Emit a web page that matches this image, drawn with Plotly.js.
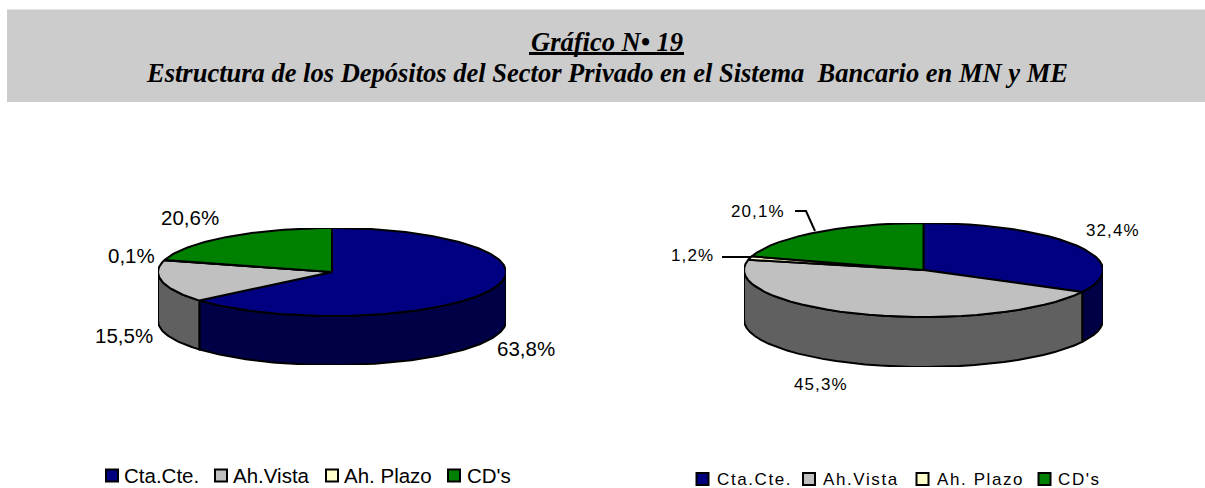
<!DOCTYPE html>
<html><head><meta charset="utf-8">
<script src="https://cdn.plot.ly/plotly-3.0.1.min.js"></script>
<style>html,body{margin:0;padding:0;background:#fff}#c{width:1205px;height:488px}</style>
</head><body><div id="c"></div>
<script>
const categories = ["Cta.Cte.", "Ah.Vista", "Ah. Plazo", "CD's"];
const valuesMN = [63.8, 15.5, 0.1, 20.6];
const valuesME = [32.4, 45.3, 1.2, 20.1];
const labelsMN = ["63,8%", "15,5%", "0,1%", "20,6%"];
const labelsME = ["32,4%", "45,3%", "1,2%", "20,1%"];
const topColors = ["#000080", "#C0C0C0", "#FFFFCC", "#008000"];
const sideColors = ["#000046", "#606060", "#808066", "#004000"];

const W = 1205, H = 488;
const traces = [], annotations = [], shapes = [];
const rad = d => d * Math.PI / 180;

function addPie(values, suffix, depth, step, lw) {
  const total = values.reduce((a, b) => a + b, 0);
  let start = 0;
  const wedges = values.map(v => { const w = [start, start + v / total * 360]; start = w[1]; return w; });
  const ax = {xaxis: 'x' + suffix, yaxis: 'y' + suffix, type: 'scatter', mode: 'lines', fill: 'toself',
              hoverinfo: 'skip', showlegend: false};
  const arc = (a, b) => {
    const out = [];
    const n = Math.max(1, Math.round((b - a) / step));
    for (let i = 0; i <= n; i++) out.push(a + (b - a) * i / n);
    return out;
  };
  // front walls
  wedges.forEach((w, i) => {
    const a = Math.max(w[0], 90), b = Math.min(w[1], 270);
    if (b <= a) return;
    const t = arc(a, b);
    const xs = t.map(d => Math.sin(rad(d))).concat(t.slice().reverse().map(d => Math.sin(rad(d))));
    const ys = t.map(d => Math.cos(rad(d))).concat(t.slice().reverse().map(d => Math.cos(rad(d)) - depth));
    xs.push(xs[0]); ys.push(ys[0]);
    traces.push(Object.assign({}, ax, {x: xs, y: ys, fillcolor: sideColors[i], line: {color: '#000', width: lw}}));
  });
  // top faces
  wedges.forEach((w, i) => {
    const t = arc(w[0], w[1]);
    const xs = [0].concat(t.map(d => Math.sin(rad(d))), [0]);
    const ys = [0].concat(t.map(d => Math.cos(rad(d))), [0]);
    traces.push(Object.assign({}, ax, {x: xs, y: ys, fillcolor: topColors[i], line: {color: '#000', width: lw}}));
  });
}
addPie(valuesMN, '', 49 / 44, 1, 2);
addPie(valuesME, '2', 50 / 47, 5, 2);

// overlay in page units for labels, leaders and legends
const page = {xaxis: 'x3', yaxis: 'y3', hoverinfo: 'skip', showlegend: false, type: 'scatter'};
const lblFont = {family: 'Liberation Sans, Arial, sans-serif', size: 20.5, color: '#000'};
const lblFontR = {family: 'Liberation Sans, Arial, sans-serif', size: 17, color: '#000'};
const spaced = (s, px) => '<span style="letter-spacing:' + px + 'px">' + s + '</span>';

const posMN = [[526, 348], [124, 335], [131, 255], [190, 217]];
const posME = [[1113, 230], [821, 384], [692, 255], [758, 211]];
posMN.forEach((p, i) => annotations.push({xref: 'x3', yref: 'y3', x: p[0], y: p[1], text: labelsMN[i],
  showarrow: false, font: lblFont, xanchor: 'center', yanchor: 'middle'}));
posME.forEach((p, i) => annotations.push({xref: 'x3', yref: 'y3', x: p[0], y: p[1], text: spaced(labelsME[i], 1.1),
  showarrow: false, font: lblFontR, xanchor: 'center', yanchor: 'middle'}));

// leader lines
traces.push(Object.assign({}, page, {mode: 'lines', x: [795, 806, 815], y: [211, 211, 231], line: {color: '#000', width: 2}}));
traces.push(Object.assign({}, page, {mode: 'lines', x: [722, 751], y: [257, 257], line: {color: '#000', width: 2}}));

// legends
const legMN = {y: 475.5, sw: [112, 221, 332, 454], tx: [124, 233, 344, 467]};
const legME = {y: 479, sw: [702.5, 809, 922.5, 1044.5], tx: [717, 823, 937, 1058]};
categories.forEach((c, i) => {
  [legMN, legME].forEach((L, k) => {
    traces.push(Object.assign({}, page, {mode: 'markers', x: [L.sw[i]], y: [L.y],
      marker: {symbol: 'square', size: 12, color: topColors[i], line: {color: '#000', width: 2}}}));
    annotations.push({xref: 'x3', yref: 'y3', x: L.tx[i], y: L.y, text: k ? spaced(c, 1.6) : c, showarrow: false,
      font: k ? lblFontR : lblFont, xanchor: 'left', yanchor: 'middle', xshift: -2});
  });
});

// title band
shapes.push({type: 'rect', xref: 'x3', yref: 'y3', x0: 7, x1: W, y0: 9.5, y1: 102, fillcolor: '#CCCCCC', line: {width: 0}, layer: 'below'});
shapes.push({type: 'line', xref: 'x3', yref: 'y3', x0: 529, x1: 684, y0: 53.5, y1: 53.5, line: {color: '#000', width: 3}});
const ttl = {family: 'Liberation Serif, Times New Roman, serif', size: 26.5, color: '#000'};
annotations.push({xref: 'x3', yref: 'y3', x: 607, y: 41.5, text: '<b><i>Gráfico N• 19</i></b>', showarrow: false, font: ttl});
annotations.push({xref: 'x3', yref: 'y3', x: 607, y: 72.5, text: '<b><i>Estructura de los Depósitos del Sector Privado en el Sistema  Bancario en MN y ME</i></b>', showarrow: false, font: ttl});

const hidden = {visible: false, fixedrange: true};
const layout = {
  width: W, height: H, margin: {l: 0, r: 0, t: 0, b: 0}, paper_bgcolor: '#fff', plot_bgcolor: 'rgba(0,0,0,0)',
  showlegend: false, shapes, annotations,
  xaxis:  Object.assign({}, hidden, {domain: [158 / W, 506 / W], range: [-1, 1]}),
  yaxis:  Object.assign({}, hidden, {domain: [1 - 365 / H, 1 - 228 / H], range: [-1 - 49 / 44, 1]}),
  xaxis2: Object.assign({}, hidden, {domain: [744 / W, 1103 / W], range: [-1, 1]}),
  yaxis2: Object.assign({}, hidden, {domain: [1 - 367 / H, 1 - 223 / H], range: [-1 - 50 / 47, 1]}),
  xaxis3: Object.assign({}, hidden, {domain: [0, 1], range: [0, W]}),
  yaxis3: Object.assign({}, hidden, {domain: [0, 1], range: [H, 0]})
};
Plotly.newPlot('c', traces, layout, {displayModeBar: false, staticPlot: true});
</script>
</body></html>
